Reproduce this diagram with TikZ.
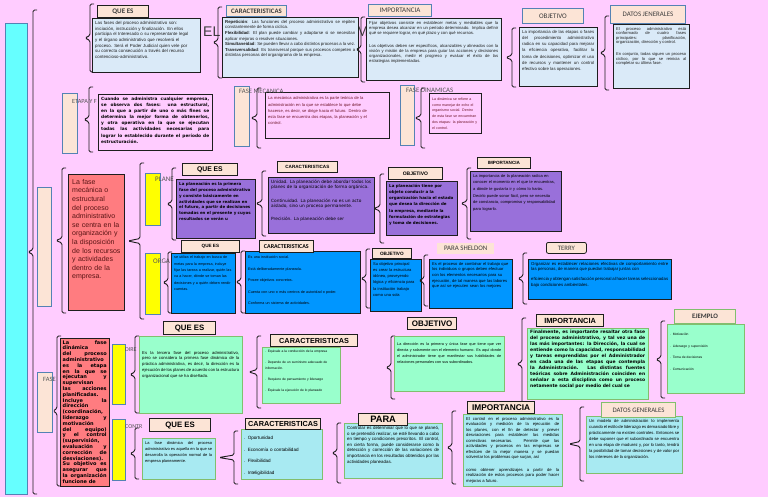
\documentclass[tikz,border=0pt]{standalone}
\usepackage{fontspec}
\setmainfont{Liberation Sans}
\newfontfamily\calfont{Carlito}
\newfontfamily\vrdfont{DejaVu Sans}
\setlength\parindent{0pt}
\tolerance=9999 \emergencystretch=8pt \hbadness=10000 \hyphenpenalty=10000 \exhyphenpenalty=10000
\definecolor{bg}{RGB}{255,204,255}
\definecolor{cyanbar}{RGB}{102,255,255}
\definecolor{peach}{RGB}{252,228,214}
\definecolor{steel}{RGB}{84,130,180}
\definecolor{lblue}{RGB}{218,234,248}
\definecolor{salmon}{RGB}{255,124,128}
\definecolor{yel}{RGB}{255,255,0}
\definecolor{purp}{RGB}{153,112,218}
\definecolor{blu}{RGB}{0,150,255}
\definecolor{grn}{RGB}{153,255,204}
\definecolor{grnb}{RGB}{130,190,110}
\definecolor{cyl}{RGB}{168,234,242}
\definecolor{dk}{RGB}{30,30,30}
\definecolor{gtext}{RGB}{85,85,85}
\definecolor{hdtext}{RGB}{60,60,60}
\definecolor{maroon}{RGB}{110,20,40}
\definecolor{redtext}{RGB}{90,20,20}
\newcommand\fs[2]{\fontsize{#1pt}{#2pt}\selectfont}
\newcommand\brc[4]{\draw[brline] ({#1+4},#2) -- (#1,#2) -- (#1,{(#2+#3)/2-2.5}) -- ({#1-#4},{(#2+#3)/2}) -- (#1,{(#2+#3)/2+2.5}) -- (#1,#3) -- ({#1+4},#3);}
\newcommand\rct[6]{\node[#6, anchor=north west, minimum width=#4pt, minimum height=#5pt, inner sep=0pt] (#1) at (#2,#3) {};}
\newcommand\hdr[7]{\node[#6, anchor=north west, minimum width=#4pt, minimum height=#5pt, inner sep=0pt] (#1) at (#2,#3) {#7};}
\newcommand\lbl[5]{\node[anchor=north west, inner sep=0pt, #4] (#1) at (#2,#3) {#5};}
\newcommand\bbox[8]{%
 \node[#6, anchor=north west, minimum width=#4pt, minimum height=#5pt, inner sep=0pt] (#1) at (#2,#3) {};%
 \pgfmathsetmacro\tmpw{#4-6}%
 \node[anchor=north west, inner sep=0pt, text width=\tmpw pt, align=justify, #7] (#1t) at ([xshift=3pt,yshift=-3pt]#1.north west) {#8};}
\tikzset{
 brline/.style={draw=dk, line width=0.9pt, rounded corners=1.5pt},
 lb/.style={draw=dk, line width=1.1pt, fill=lblue},
 pkb/.style={draw=dk, line width=0.9pt, fill=bg},
 pkrect/.style={draw=steel, line width=0.8pt, fill=peach},
 yrect/.style={draw=steel, line width=0.8pt, fill=yel},
 redb/.style={draw=dk, line width=1pt, fill=salmon},
 purb/.style={draw=dk, line width=1pt, fill=purp},
 blub/.style={draw=dk, line width=1pt, fill=blu},
 grnbx/.style={draw=grnb, line width=1pt, fill=grn},
 cylb/.style={draw=grnb, line width=1pt, fill=cyl},
 hd/.style={fill=peach, draw=dk, line width=0.9pt, text=hdtext},
 hdb/.style={fill=peach, draw=steel, line width=0.9pt, text=hdtext},
 hdg/.style={fill=peach, draw=grnb, line width=1pt, text=hdtext},
 hdk/.style={fill=peach, draw=dk, line width=1.2pt, text=black},
 hdk2/.style={fill=peach, draw=dk, line width=0.8pt, text=black},
 hdnb/.style={fill=peach, text=hdtext},
 hdtr/.style={fill=peach, draw=dk, line width=0.8pt, rounded corners=2pt, text=hdtext},
 lab/.style={text=gtext},
}
\begin{document}
\begin{tikzpicture}[x=1pt,y=-1pt]
\fill[bg] (0,0) rectangle (768,497);
\useasboundingbox (0,0) rectangle (768,497);

% fragments of a title hidden behind the boxes
\lbl{tt1}{203}{27}{text=hdtext, font=\fs{14}{15}}{EL}
\lbl{tt2}{356.5}{27}{text=hdtext, font=\fs{14}{15}}{M}

% left bar and main bracket
\rct{bar}{5}{23}{22}{471}{draw=steel, line width=0.8pt, fill=cyanbar}
\brc{33}{10}{494}{5}

% ===== top row
\brc{90}{4}{72}{5}
\bbox{qe1}{92}{18}{108}{54}{lb}{align=left, text width=103pt, font=\fs{4.4}{5.7}, text=dk}{Las fases del proceso administrativo son: iniciación, instrucción y finalización. En ellos participa el Interesado o su representante legal y el órgano administrativo que resolverá el proceso. Será el Poder Judicial quien vele por su correcta consecución a través del recurso contencioso-administrativo.}
\hdr{qe1h}{97}{5}{51}{12}{hd}{\calfont\bfseries\fs{7}{8}QUE ES}

\brc{218}{7}{78}{5}
\bbox{car1}{222}{17}{136}{60}{lb}{font=\fs{4.3}{5.6}, text=dk}{\textbf{Repetición}: Las funciones del proceso administrativo se repiten constantemente de forma cíclica.\par \textbf{Flexibilidad}: El plan puede cambiar y adaptarse si se necesitan aplicar mejoras o resolver situaciones.\par \textbf{Simultaneidad}: Se pueden llevar a cabo distintos procesos a la vez.\par \textbf{Transversalidad}: Es transversal porque sus procesos competen a distintas personas del organigrama de la empresa.}
\hdr{car1h}{226}{5}{60}{11}{hdb}{\calfont\bfseries\fs{6.8}{8}CARACTERISTICAS}

\brc{361}{17}{82}{5}
\bbox{imp1}{366}{18}{135}{62}{lb}{font=\fs{4.2}{5.1}, text=dk}{Fijar objetivos consiste en establecer metas y mediables que la empresa desea alcanzar en un período determinado. Implica definir qué se requiere lograr, en qué plazo y con qué recursos.\par\vspace{8pt}Los objetivos deben ser específicos, alcanzables y alineados con la visión y misión de la empresa para guiar las acciones y decisiones organizacionales, medir el progreso y evaluar el éxito de las estrategias implementadas.}
\hdr{imp1h}{368}{4}{63}{12}{hdb}{\calfont\fs{7}{8}IMPORTANCIA}

\brc{512}{28}{87}{6}
\bbox{obj1}{519}{27}{78}{59}{lb}{font=\fs{4.3}{6.2}, text=dk}{La importancia de las etapas o fases del procedimiento administrativo radica en su capacidad para mejorar la eficiencia operativa, facilitar la toma de decisiones, optimizar el uso de recursos y mantener un control efectivo sobre las operaciones.}
\hdr{obj1h}{522}{8}{61}{15}{hdb}{\calfont\fs{7}{8}OBJETIVO}

\brc{605}{16}{90}{5}
\bbox{dat1}{613}{24}{76}{64}{lb}{font=\fs{4.1}{4.4}, text=dk}{El proceso administrativo está conformado de cuatro fases principales: planificación, organización, dirección y control.\par\vspace{8pt}En conjunto, todas siguen un proceso cíclico, por lo que se reinicia al completar su última fase.}
\hdr{dat1h}{610}{5}{75}{18}{hdb}{\calfont\fs{6.9}{8}DATOS JENERALES}

% ===== second row
\rct{etr}{62}{93}{15}{60}{pkrect}
\lbl{etl}{72}{99}{lab, font=\calfont\fs{6.3}{7}}{ETAPA Y F}
\brc{89}{87}{152}{5}
\bbox{et}{98}{94}{114}{56}{pkb}{font=\vrdfont\bfseries\fs{4.3}{6.1}, text=black}{Cuando se administra cualquier empresa, se observa dos fases: una estructural, en la que a partir de uno o más fines se determina la mejor forma de obtenerlos, y otra operativa en la que se ejecutan todas las actividades necesarias para lograr lo establecido durante el período de estructuración.}

\rct{mer}{234}{86}{15}{60}{pkrect}
\brc{257}{88}{148}{6}
\bbox{me}{265}{92}{124}{46}{pkb}{align=left, text width=108pt, font=\fs{4.1}{6.3}, text=maroon, yshift=-1.5pt}{La mecánica administrativa es la parte teórica de la administración en la que se establece lo que debe hacerse, es decir, se dirige hacia el futuro. Dentro de esta fase se encuentra dos etapas, la planeación y el control.}
\lbl{mel}{239}{89}{lab, font=\calfont\fs{6.7}{7}}{FASE MECANICA}

\rct{dnr}{400}{85}{14}{60}{pkrect}
\brc{421}{88}{148}{6}
\bbox{dn}{429}{93}{52}{40}{pkb}{align=left, text width=46pt, font=\fs{3.6}{5.8}, text=maroon, yshift=-1.5pt}{La dinámica se refiere a como manejar de echo el organismo social. Dentro de esta fase se encuentran dos etapas: la planeación y el control.}
\lbl{dnl}{406}{88}{lab, font=\calfont\fs{6.8}{7}}{FASE DINAMICAS}

% ===== fase mecanica
\rct{mr2}{37}{187}{14}{119}{pkrect}
\brc{62}{168}{313}{6}
\bbox{red1}{68}{174}{56}{136}{redb}{align=left, text width=50pt, font=\fs{7}{8.6}, text=redtext, xshift=1pt, yshift=-2pt}{La fase mecánica o estructural del proceso administrativo se centra en la organización y la disposición de los recursos y actividades dentro de la empresa.}
\brc{140}{163}{319}{12}

\rct{pla}{145}{173}{15}{52}{yrect}
\lbl{plal}{155}{177}{lab, font=\calfont\fs{7}{8}}{PLANE}
\brc{172}{168}{240}{5}
\bbox{pq}{176}{179}{79}{59}{purb}{align=left, font=\vrdfont\bfseries\fs{4}{5.9}, text=black}{La planeación es la primera fase del proceso administrativo y consiste básicamente en actividades que se realizan en el futuro, a partir de decisiones tomadas en el presente y cuyos resultados se verán u}
\hdr{pqh}{182}{163}{55}{12}{hdk2}{\bfseries\fs{6.8}{8}QUE ES}

\brc{262}{171}{236}{6}
\bbox{pc}{268}{177}{106}{56}{purb}{align=left, font=\vrdfont\fs{4.3}{5.2}, text=black}{Unidad. La planeación debe abordar todos los planes de la organización de forma orgánica.\par\vspace{8pt}Continuidad. La planeación no es un acto aislado, sino un proceso permanente.\par\vspace{8pt}Precisión. La planeación debe ser}
\hdr{pch}{277}{161}{60}{11}{hdk2}{\bfseries\fs{4.6}{5}CARACTERISTICAS}

\brc{380}{174}{243}{6}
\bbox{po}{386}{181}{71}{54}{purb}{align=left, font=\vrdfont\bfseries\fs{4}{6.2}, text=black}{La planeación tiene por objeto conducir a la organización hacia el estado que desea la dirección de la empresa, mediante la formulación de estrategias y toma de decisiones.}
\hdr{poh}{388}{167}{54}{12}{hdk2}{\bfseries\fs{5}{6}OBJETIVO}

\brc{467}{168}{239}{6}
\bbox{pi}{470}{171}{91}{60}{purb}{align=left, text width=82pt, font=\fs{4}{6.7}, text=black}{La importancia de la planeación radica en conocer el momento en el que te encuentras, a dónde te gustaría ir y cómo lo harás. Decirlo puede sonar fácil, pero se necesita de constancia, compromiso y responsabilidad para lograrlo.}
\hdr{pih}{477}{157}{53}{11}{hdk2}{\bfseries\fs{4.6}{5}IMPORTANCIA}

% organizacion
\rct{org}{145}{253}{15}{61}{yrect}
\lbl{orgl}{153}{259}{lab, font=\calfont\fs{7}{8}}{ORGA}
\brc{168}{252}{313}{5}
\bbox{oq}{171}{253}{64}{60}{blub}{align=left, font=\fs{3.7}{6.3}, text=black}{se utiliza el trabajo en busca de metas para la empresa, incluye fijar las tareas a realizar, quién las va a hacer, dónde se toman las decisiones y a quién deben rendir cuentas.}
\hdr{oqh}{181}{240}{58}{12}{hdk2}{\bfseries\fs{4.6}{5}QUE ES}
\brc{241}{251}{313}{5}
\bbox{oc}{245}{251}{115}{62}{blub}{align=left, font=\fs{3.7}{5}, text=black, yshift=-2pt}{Es una institución social.\par\vspace{6.5pt}Está deliberadamente planeada.\par\vspace{6.5pt}Posee objetivos concretos.\par\vspace{6.5pt}Cuenta con uno o más centros de autoridad o poder.\par\vspace{6.5pt}Conforma un sistema de actividades.}
\hdr{och}{259}{240}{54}{12}{hdk2}{\calfont\bfseries\fs{6}{7}CARACTERISTICAS}
\brc{366}{249}{308}{5}
\bbox{oo}{370}{259}{51}{52}{blub}{align=left, font=\fs{4}{6.3}, text=black}{Su objetivo principal es crear la estructura idónea, proveyendo lógica y eficiencia para la institución trabajo como una sola}
\hdr{ooh}{372}{248}{39}{10}{hdk2}{\bfseries\fs{4.7}{5}OBJETIVO}
\brc{424}{255}{306}{5}
\bbox{os}{429}{259}{83}{49}{blub}{align=left, font=\fs{4.1}{5.7}, text=black}{Es el proceso de combinar el trabajo que los individuos o grupos deben efectuar con los elementos necesarios para su ejecución, de tal manera que las labores que así se ejecuten sean los mejores}
\hdr{osh}{437}{243}{57}{11}{hdnb}{\calfont\fs{6.9}{8}PARA SHELDON}
\brc{523}{253}{304}{5}
\bbox{ot}{528}{259}{143}{40}{blub}{font=\fs{4.3}{5.3}, text=black}{Organizar es establecer relaciones efectivas de comportamiento entre las personas, de manera que puedan trabajar juntas con\par\vspace{5pt}eficiencia y obtengan satisfacción personal al hacer tareas seleccionadas bajo condiciones ambientales.}
\hdr{oth}{546}{242}{40}{11}{hdtr}{\calfont\fs{6.7}{8}TERRY}

% ===== fase dinamica
\rct{dr2}{37}{372}{15}{60}{pkrect}
\lbl{drl}{43}{377}{lab, font=\calfont\fs{6.5}{7}}{FASE}
\brc{57}{336}{486}{4}
\bbox{red2}{60}{338}{49}{148}{redb}{text width=44pt, font=\vrdfont\bfseries\fs{5}{5.8}, text=black, xshift=-0.5pt, yshift=1pt}{La fase dinámica del proceso administrativo es la etapa en la que se ejecutan y supervisan las acciones planificadas. Incluye la dirección (coordinación, liderazgo y motivación del equipo) y el control (supervisión, evaluación y corrección de desviaciones). Su objetivo es asegurar que la organización funcione de}

\rct{dyy}{112}{344}{13}{60}{yrect}
\lbl{dyl}{125}{347}{lab, font=\calfont\fs{6}{7}}{DIRE}
\brc{135}{336}{413}{5}
\bbox{dq}{139}{336}{103}{77}{grnbx}{font=\fs{4.2}{5.7}, text=black, yshift=-12pt}{Es la tercera fase del proceso administrativo, pero se considera la primera fase dinámica de la práctica administrativa, es decir, la dirección es la ejecución de los planes de acuerdo con la estructura organizacional que se ha diseñado.}
\hdr{dqh}{163}{321}{52}{13}{hdk}{\bfseries\fs{7.8}{9}QUE ES}
\brc{257}{336}{408}{8}
\bbox{dc}{262}{347}{78}{56}{grnbx}{align=left, font=\fs{3.3}{5.5}, text=black}{. Equivale a la conducción de la empresa\par\vspace{5.5pt}. Depende de un suministro adecuado de información.\par\vspace{5.5pt}. Requiere de pensamiento y liderazgo\par\vspace{5.5pt}. Equivale la ejecución de lo planeado}
\hdr{dch}{270}{334}{87}{12}{hdk}{\bfseries\fs{7.3}{8}CARACTERISTICAS}
\brc{391}{336}{399}{5}
\bbox{do}{394}{336}{110}{55}{grnbx}{font=\fs{3.8}{5.8}, text=black, yshift=-4pt}{La dirección es la primera y única fase que tiene que ver directa y solamente con el elemento humano. Es aquí donde el administrador tiene que manifestar sus habilidades de relaciones personales con sus subordinados.}
\hdr{doh}{407}{317}{49}{12}{hdk}{\bfseries\fs{8}{9}OBJETIVO}
\brc{522}{318}{410}{5}
\bbox{dim}{527}{328}{121}{71}{grnbx}{font=\vrdfont\bfseries\fs{4.5}{6}, text=black, yshift=1pt}{Finalmente, es importante resaltar otra fase del proceso administrativo, y tal vez una de las más importantes: la Dirección, la cual se entiende como la capacidad, responsabilidad y tareas emprendidas por el Administrador en cada una de las etapas que contempla la Administración. Las distintas fuentes teóricas sobre Administración coinciden en señalar a esta disciplina como un proceso netamente social por medio del cual se}
\hdr{dimh}{536}{314}{67}{12}{hdk}{\bfseries\fs{7.4}{8}IMPORTANCIA}
\brc{661}{321}{398}{5}
\bbox{de}{667}{324}{77}{69}{grnbx}{align=left, font=\fs{3.3}{5}, text=black, yshift=-6pt}{. Motivación\par\vspace{6.5pt}. Liderazgo y supervisión\par\vspace{6.5pt}. Toma de decisiones\par\vspace{6.5pt}. Comunicación}
\hdr{deh}{674}{309}{61}{14}{hdg}{\calfont\bfseries\fs{6.8}{8}EJEMPLO}

% control
\rct{coy}{112}{419}{13}{61}{yrect}
\lbl{col}{125}{424}{lab, font=\calfont\fs{6}{7}}{CONTR}
\brc{135}{428}{479}{5}
\bbox{cq}{142}{438}{73}{41}{cylb}{font=\fs{4}{6.2}, text=black}{La fase dinámica del proceso administrativo es aquella en la que se desarrolla la operación normal de la empresa planeamente.}
\hdr{cqh}{149}{418}{61}{13}{hdk}{\bfseries\fs{7.8}{9}QUE ES}
\brc{234}{431}{484}{15}
\bbox{cc}{241}{429}{81}{50}{cylb}{align=left, font=\fs{4.6}{5}, text=black, yshift=-4pt}{. Oportunidad\par\vspace{6.7pt}. Economía o contabilidad\par\vspace{6.7pt}. Flexibilidad\par\vspace{6.7pt}. Inteligibilidad}
\hdr{cch}{245}{418}{75}{11}{hdk}{\bfseries\fs{7.3}{8}CARACTERISTICAS}
\brc{337}{423}{483}{5}
\bbox{cp}{344}{423}{98}{55}{cylb}{font=\fs{4.4}{5.6}, text=black}{Controlar es determinar que lo que se planeó, o se pretendió realizar, se esté llevando a cabo en tiempo y condiciones prescritos. El control, en cierta forma, puede considerarse como la detección y corrección de las variaciones de importancia en los resultados obtenidos por las actividades planeadas.}
\hdr{cph}{358}{413}{49}{12}{hdk}{\bfseries\fs{9.3}{10}PARA}
\brc{452}{411}{484}{5}
\bbox{ci}{463}{414}{99}{72}{cylb}{font=\fs{4.2}{5.5}, text=black}{El control en el proceso administrativo es la evaluación y medición de la ejecución de los planes, con el fin de detectar y prever desviaciones para establecer las medidas correctivas necesarias. Permite que las actividades y procesos en las empresas se efectúen de la mejor manera y se puedan solventar los problemas que surjan, así\par\vspace{7pt}como obtener aprendizajes a partir de la realización de estos procesos para poder hacer mejoras a futuro.}
\hdr{cih}{467}{401}{67}{12}{hdk}{\bfseries\fs{8.3}{9}IMPORTANCIA}
\brc{580}{407}{481}{11}
\bbox{cd}{586}{416}{96}{57}{cylb}{font=\fs{4.2}{6}, text=black}{Un modelo de administración lo implementa cuando el estilo de liderazgo es demasiado libre y prácticamente no existen controles. Entonces se debe suponer que el subordinado se encuentra en una etapa de madurez y, por lo tanto, tendrá la posibilidad de tomar decisiones y de valor por los intereses de la organización.}
\hdr{cdh}{601}{402}{74}{15}{hdg}{\calfont\fs{6.8}{8}DATOS GENERALES}
\end{tikzpicture}
\end{document}
